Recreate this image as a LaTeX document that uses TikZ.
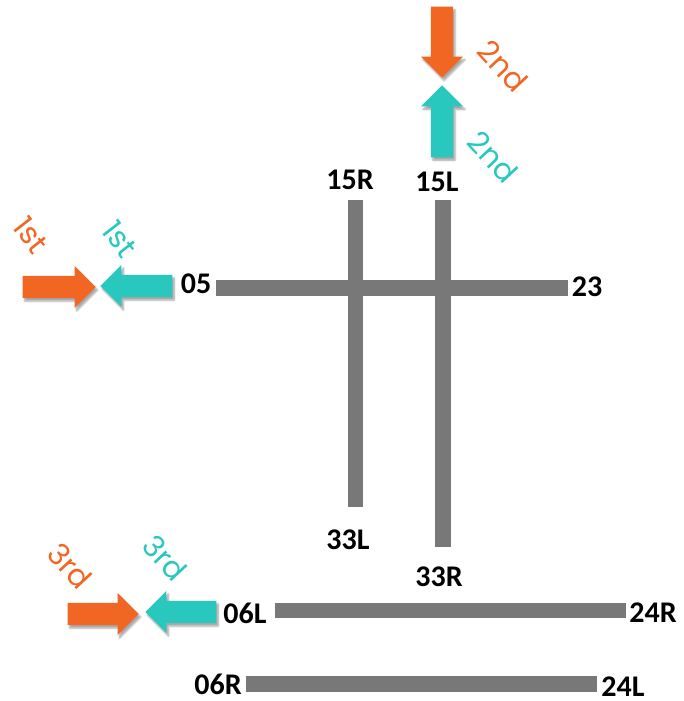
\documentclass[tikz,border=0pt]{standalone}
\usepackage{fontspec}
\newfontfamily\rwyfont{Carlito}
\newfontfamily\ordfont{Poppins}
\usetikzlibrary{shapes.arrows,shadows.blur}
\definecolor{ordorange}{RGB}{242,102,36}
\definecolor{ordteal}{RGB}{41,200,190}
\definecolor{rwygray}{RGB}{120,120,120}

\begin{document}
\begin{tikzpicture}[x=1pt, y=-1pt,
    runway/.style={draw=rwygray, line width=15.5pt},
    rwy/.style={font=\rwyfont\bfseries\fontsize{30}{32}\selectfont, inner sep=0pt},
    ord/.style={font=\ordfont\fontsize{30}{32}\selectfont, inner sep=0pt, rotate=-47},
    plane/.style={single arrow, anchor=tip, inner sep=11pt, minimum width=42pt,
      single arrow head extend=10pt, blur shadow={shadow xshift=2pt, shadow yshift=-3pt,
      shadow blur steps=6, shadow opacity=35}}]
        \useasboundingbox (0,0) rectangle (684,701);

        % runway ends
        \coordinate (r05) at (216,288);
        \coordinate (r23) at (568,288);
        \coordinate (r15R) at (355.5,200);
        \coordinate (r33L) at (355.5,507);
        \coordinate (r15L) at (443,200);
        \coordinate (r33R) at (443,547);
        \coordinate (r06L) at (275,610.5);
        \coordinate (r24R) at (626,610.5);
        \coordinate (r06R) at (246,684);
        \coordinate (r24L) at (597,684);

        \path[runway] (r05) edge (r23);
        \path[runway] (r15R) edge (r33L);
        \path[runway] (r15L) edge (r33R);
        \path[runway] (r06L) edge (r24R);
        \path[runway] (r06R) edge (r24L);

        \node[rwy] (l05) at (196,284) {05};
        \node[rwy] (l23) at (587,287) {23};
        \node[rwy] (l15R) at (350,180) {15R};
        \node[rwy] (l15L) at (437,182) {15L};
        \node[rwy] (l33L) at (348,540) {33L};
        \node[rwy] (l33R) at (439,577) {33R};
        \node[rwy] (l06L) at (245,613) {06L};
        \node[rwy] (l24R) at (653,613) {24R};
        \node[rwy] (l06R) at (218,684) {06R};
        \node[rwy] (l24L) at (623,687) {24L};

        % arrivals
        \node[plane, fill=ordorange, minimum height=73pt] (o1) at (96,287) {};
        \node[plane, fill=ordteal, minimum height=72pt, shape border rotate=180] (t1) at (100,286) {};
        \node[plane, fill=ordorange, minimum height=71pt, shape border rotate=270] (o2) at (442,78) {};
        \node[plane, fill=ordteal, minimum height=72pt, shape border rotate=90] (t2) at (442,85) {};
        \node[plane, fill=ordorange, minimum height=71pt] (o3) at (139,614) {};
        \node[plane, fill=ordteal, minimum height=71pt, shape border rotate=180] (t3) at (145,612) {};

        \node[ord, text=ordorange, rotate=-5] (lo1) at (31,235) {1st};
        \node[ord, text=ordteal, rotate=-5] (lt1) at (120,239) {1st};
        \node[ord, text=ordorange] (lo2) at (503,66) {2nd};
        \node[ord, text=ordteal] (lt2) at (493,157) {2nd};
        \node[ord, text=ordorange] (lo3) at (70,566) {3rd};
        \node[ord, text=ordteal] (lt3) at (165,558) {3rd};
      \end{tikzpicture}
\end{document}
